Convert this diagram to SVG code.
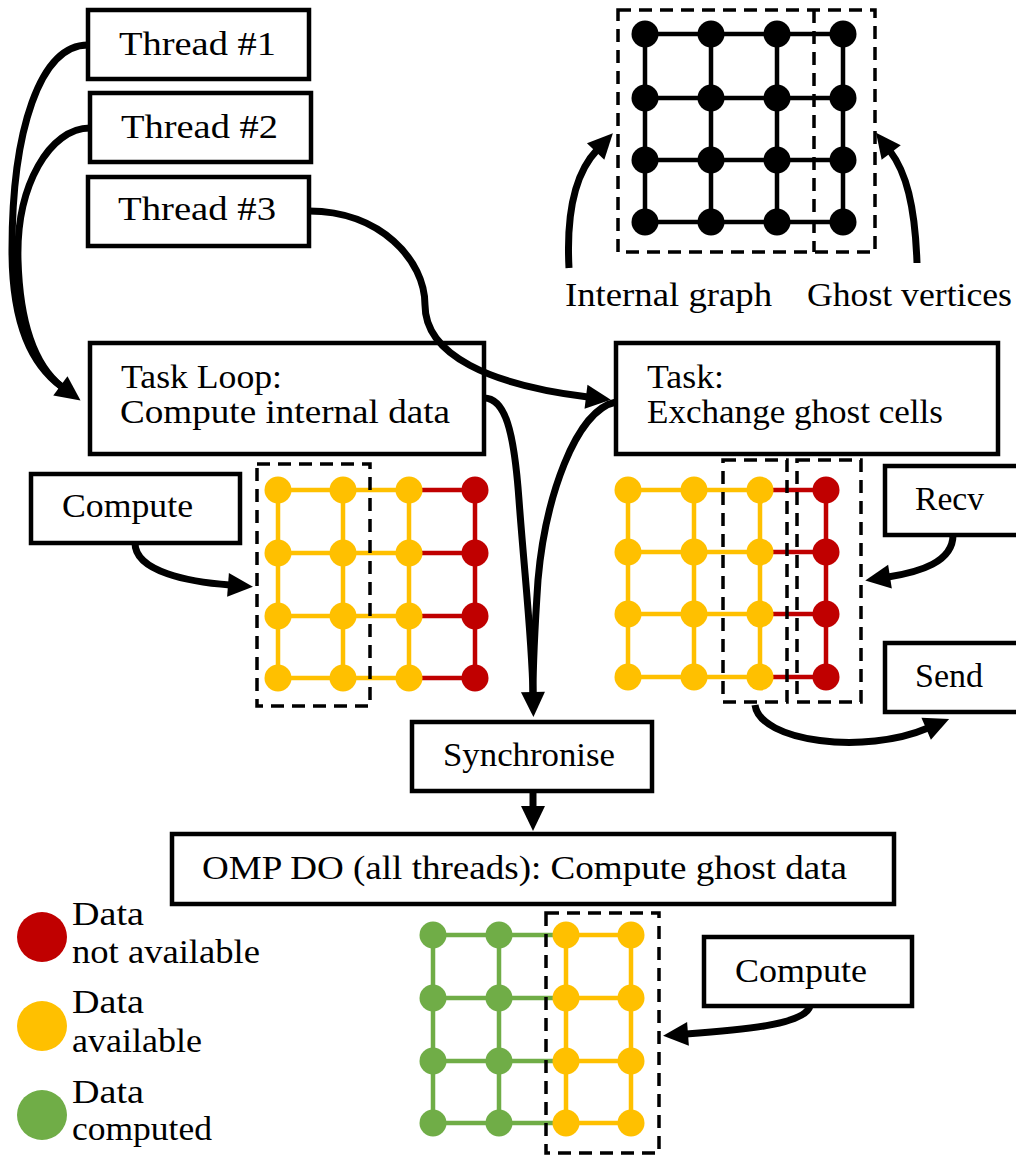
<svg xmlns="http://www.w3.org/2000/svg" width="1016" height="1155" viewBox="0 0 1016 1155">
<style>
.box{fill:#fff;stroke:#000;stroke-width:4.5}
.t{font-family:'Liberation Serif','DejaVu Serif',serif;font-size:33px;fill:#000}
.dash{fill:none;stroke:#000;stroke-width:3.5;stroke-dasharray:13 8}
.con{fill:none;stroke:#000;stroke-width:7}
.k{stroke:#000;stroke-width:4.5}
.y{stroke:#FFC000;stroke-width:4.5}
.r{stroke:#C00000;stroke-width:4.5}
.g{stroke:#70AD47;stroke-width:4.5}
.ky{fill:#FFC000}.kr{fill:#C00000}.kg{fill:#70AD47}.kk{fill:#000}
</style>
<defs>
<marker id="ah" markerUnits="userSpaceOnUse" markerWidth="30" markerHeight="30" viewBox="-2 -14 30 28" refX="2" refY="0" orient="auto">
<path d="M0,-12 L25,0 L0,12 Z" fill="#000"/>
</marker>
</defs>

<g id="thread1"><rect class="box" x="88" y="10" width="221" height="69"/><text class="t" x="119" y="55" textLength="157" lengthAdjust="spacingAndGlyphs">Thread #1</text></g>
<g id="thread2"><rect class="box" x="90" y="93" width="221" height="69"/><text class="t" x="121" y="138" textLength="157" lengthAdjust="spacingAndGlyphs">Thread #2</text></g>
<g id="thread3"><rect class="box" x="88" y="177" width="221" height="69"/><text class="t" x="118" y="220" textLength="158" lengthAdjust="spacingAndGlyphs">Thread #3</text></g>

<g id="taskloop"><rect class="box" x="90" y="343" width="394" height="111"/>
<text class="t" x="121" y="388" textLength="161" lengthAdjust="spacingAndGlyphs">Task Loop:</text>
<text class="t" x="120" y="423" textLength="330" lengthAdjust="spacingAndGlyphs">Compute internal data</text></g>

<g id="task"><rect class="box" x="616" y="343" width="382" height="111"/>
<text class="t" x="647" y="388" textLength="77" lengthAdjust="spacingAndGlyphs">Task:</text>
<text class="t" x="647" y="423" textLength="296" lengthAdjust="spacingAndGlyphs">Exchange ghost cells</text></g>

<g id="compute1"><rect class="box" x="31" y="474" width="209" height="69"/><text class="t" x="62" y="517" textLength="131" lengthAdjust="spacingAndGlyphs">Compute</text></g>
<g id="recv"><rect class="box" x="885" y="466" width="140" height="69"/><text class="t" x="915" y="510" textLength="69" lengthAdjust="spacingAndGlyphs">Recv</text></g>
<g id="send"><rect class="box" x="885" y="643" width="140" height="69"/><text class="t" x="915" y="687" textLength="68" lengthAdjust="spacingAndGlyphs">Send</text></g>
<g id="synchronise"><rect class="box" x="412" y="722" width="240" height="69"/><text class="t" x="443" y="766" textLength="172" lengthAdjust="spacingAndGlyphs">Synchronise</text></g>
<g id="ompdo"><rect class="box" x="172" y="834" width="722" height="70"/><text class="t" x="202" y="879" textLength="645" lengthAdjust="spacingAndGlyphs">OMP DO (all threads): Compute ghost data</text></g>
<g id="compute2"><rect class="box" x="704" y="937" width="208" height="69"/><text class="t" x="735" y="982" textLength="132" lengthAdjust="spacingAndGlyphs">Compute</text></g>

<g id="labels">
<text class="t" x="565" y="306" textLength="207" lengthAdjust="spacingAndGlyphs">Internal graph</text>
<text class="t" x="807" y="306" textLength="205" lengthAdjust="spacingAndGlyphs">Ghost vertices</text>
</g>

<g id="topgrid">
<line class="k" x1="645" y1="34" x2="843" y2="34"/><line class="k" x1="645" y1="98" x2="843" y2="98"/><line class="k" x1="645" y1="160" x2="843" y2="160"/><line class="k" x1="645" y1="222" x2="843" y2="222"/>
<line class="k" x1="645" y1="34" x2="645" y2="222"/><line class="k" x1="711" y1="34" x2="711" y2="222"/><line class="k" x1="777" y1="34" x2="777" y2="222"/><line class="k" x1="843" y1="34" x2="843" y2="222"/>
<g class="kk">
<circle cx="645" cy="34" r="13.5"/><circle cx="711" cy="34" r="13.5"/><circle cx="777" cy="34" r="13.5"/><circle cx="843" cy="34" r="13.5"/>
<circle cx="645" cy="98" r="13.5"/><circle cx="711" cy="98" r="13.5"/><circle cx="777" cy="98" r="13.5"/><circle cx="843" cy="98" r="13.5"/>
<circle cx="645" cy="160" r="13.5"/><circle cx="711" cy="160" r="13.5"/><circle cx="777" cy="160" r="13.5"/><circle cx="843" cy="160" r="13.5"/>
<circle cx="645" cy="222" r="13.5"/><circle cx="711" cy="222" r="13.5"/><circle cx="777" cy="222" r="13.5"/><circle cx="843" cy="222" r="13.5"/>
</g>
<rect class="dash" x="618" y="10" width="257" height="242"/>
<line class="dash" x1="814" y1="10" x2="814" y2="252"/>
</g>

<g id="leftgrid">
<line class="y" x1="278" y1="490" x2="409" y2="490"/><line class="y" x1="278" y1="553" x2="409" y2="553"/><line class="y" x1="278" y1="616" x2="409" y2="616"/><line class="y" x1="278" y1="678" x2="409" y2="678"/>
<line class="r" x1="409" y1="490" x2="475" y2="490"/><line class="r" x1="409" y1="553" x2="475" y2="553"/><line class="r" x1="409" y1="616" x2="475" y2="616"/><line class="r" x1="409" y1="678" x2="475" y2="678"/>
<line class="y" x1="278" y1="490" x2="278" y2="678"/><line class="y" x1="343" y1="490" x2="343" y2="678"/><line class="y" x1="409" y1="490" x2="409" y2="678"/><line class="r" x1="475" y1="490" x2="475" y2="678"/>
<g class="ky">
<circle cx="278" cy="490" r="13.5"/><circle cx="343" cy="490" r="13.5"/><circle cx="409" cy="490" r="13.5"/>
<circle cx="278" cy="553" r="13.5"/><circle cx="343" cy="553" r="13.5"/><circle cx="409" cy="553" r="13.5"/>
<circle cx="278" cy="616" r="13.5"/><circle cx="343" cy="616" r="13.5"/><circle cx="409" cy="616" r="13.5"/>
<circle cx="278" cy="678" r="13.5"/><circle cx="343" cy="678" r="13.5"/><circle cx="409" cy="678" r="13.5"/>
</g>
<g class="kr">
<circle cx="475" cy="490" r="13.5"/><circle cx="475" cy="553" r="13.5"/><circle cx="475" cy="616" r="13.5"/><circle cx="475" cy="678" r="13.5"/>
</g>
<rect class="dash" x="257" y="464" width="113" height="242"/>
</g>

<g id="rightgrid">
<line class="y" x1="628" y1="490" x2="760" y2="490"/><line class="y" x1="628" y1="552" x2="760" y2="552"/><line class="y" x1="628" y1="614" x2="760" y2="614"/><line class="y" x1="628" y1="677" x2="760" y2="677"/>
<line class="r" x1="760" y1="490" x2="826" y2="490"/><line class="r" x1="760" y1="552" x2="826" y2="552"/><line class="r" x1="760" y1="614" x2="826" y2="614"/><line class="r" x1="760" y1="677" x2="826" y2="677"/>
<line class="y" x1="628" y1="490" x2="628" y2="677"/><line class="y" x1="694" y1="490" x2="694" y2="677"/><line class="y" x1="760" y1="490" x2="760" y2="677"/><line class="r" x1="826" y1="490" x2="826" y2="677"/>
<g class="ky">
<circle cx="628" cy="490" r="13.5"/><circle cx="694" cy="490" r="13.5"/><circle cx="760" cy="490" r="13.5"/>
<circle cx="628" cy="552" r="13.5"/><circle cx="694" cy="552" r="13.5"/><circle cx="760" cy="552" r="13.5"/>
<circle cx="628" cy="614" r="13.5"/><circle cx="694" cy="614" r="13.5"/><circle cx="760" cy="614" r="13.5"/>
<circle cx="628" cy="677" r="13.5"/><circle cx="694" cy="677" r="13.5"/><circle cx="760" cy="677" r="13.5"/>
</g>
<g class="kr">
<circle cx="826" cy="490" r="13.5"/><circle cx="826" cy="552" r="13.5"/><circle cx="826" cy="614" r="13.5"/><circle cx="826" cy="677" r="13.5"/>
</g>
<rect class="dash" x="723" y="460" width="64" height="242"/>
<rect class="dash" x="797" y="460" width="64" height="242"/>
</g>

<g id="bottomgrid">
<line class="g" x1="433" y1="935" x2="566" y2="935"/><line class="g" x1="433" y1="998" x2="566" y2="998"/><line class="g" x1="433" y1="1061" x2="566" y2="1061"/><line class="g" x1="433" y1="1123" x2="566" y2="1123"/>
<line class="y" x1="566" y1="935" x2="631" y2="935"/><line class="y" x1="566" y1="998" x2="631" y2="998"/><line class="y" x1="566" y1="1061" x2="631" y2="1061"/><line class="y" x1="566" y1="1123" x2="631" y2="1123"/>
<line class="g" x1="433" y1="935" x2="433" y2="1123"/><line class="g" x1="499" y1="935" x2="499" y2="1123"/><line class="y" x1="566" y1="935" x2="566" y2="1123"/><line class="y" x1="631" y1="935" x2="631" y2="1123"/>
<g class="kg">
<circle cx="433" cy="935" r="13.5"/><circle cx="499" cy="935" r="13.5"/><circle cx="433" cy="998" r="13.5"/><circle cx="499" cy="998" r="13.5"/>
<circle cx="433" cy="1061" r="13.5"/><circle cx="499" cy="1061" r="13.5"/><circle cx="433" cy="1123" r="13.5"/><circle cx="499" cy="1123" r="13.5"/>
</g>
<g class="ky">
<circle cx="566" cy="935" r="13.5"/><circle cx="631" cy="935" r="13.5"/><circle cx="566" cy="998" r="13.5"/><circle cx="631" cy="998" r="13.5"/>
<circle cx="566" cy="1061" r="13.5"/><circle cx="631" cy="1061" r="13.5"/><circle cx="566" cy="1123" r="13.5"/><circle cx="631" cy="1123" r="13.5"/>
</g>
<rect class="dash" x="546" y="913" width="113" height="240"/>
</g>

<g id="legend">
<circle class="kr" cx="42" cy="937" r="25"/>
<text class="t" x="72" y="925" textLength="72" lengthAdjust="spacingAndGlyphs">Data</text>
<text class="t" x="72" y="963" textLength="188" lengthAdjust="spacingAndGlyphs">not available</text>
<circle class="ky" cx="42" cy="1026" r="25"/>
<text class="t" x="72" y="1013" textLength="72" lengthAdjust="spacingAndGlyphs">Data</text>
<text class="t" x="72" y="1052" textLength="130" lengthAdjust="spacingAndGlyphs">available</text>
<circle class="kg" cx="42" cy="1115" r="25"/>
<text class="t" x="72" y="1103" textLength="72" lengthAdjust="spacingAndGlyphs">Data</text>
<text class="t" x="72" y="1140" textLength="140" lengthAdjust="spacingAndGlyphs">computed</text>
</g>

<g id="connectors">
<path class="con" d="M88,45 C40,45 12,130 12,250 C12,325 32,365 62,387" marker-end="url(#ah)"/>
<path class="con" d="M90,128 C50,128 16,185 18,260 C20,330 38,368 62,387"/>
<path class="con" d="M309,211 C380,211 425,260 425,305 C425,355 490,385 588,397" marker-end="url(#ah)"/>
<path class="con" d="M484,398 C505,398 514,430 519,500 C525,580 532,640 533,694" marker-end="url(#ah)"/>
<path class="con" d="M616,402 C575,410 545,500 538,580 C534,640 533,670 533,694"/>
<path class="con" d="M135,543 C135,572 190,582 230,585" marker-end="url(#ah)"/>
<path class="con" d="M953,535 C953,562 920,572 888,577" marker-end="url(#ah)"/>
<path class="con" d="M755,705 C760,742 865,755 928,728" marker-end="url(#ah)"/>
<path class="con" d="M533,791 L533,808" marker-end="url(#ah)"/>
<path class="con" d="M810,1006 C805,1025 740,1030 686,1034" marker-end="url(#ah)"/>
<path class="con" d="M569,268 C566,210 576,172 597,150" marker-end="url(#ah)"/>
<path class="con" d="M917,263 C915,205 906,172 890,151" marker-end="url(#ah)"/>
</g>
</svg>
